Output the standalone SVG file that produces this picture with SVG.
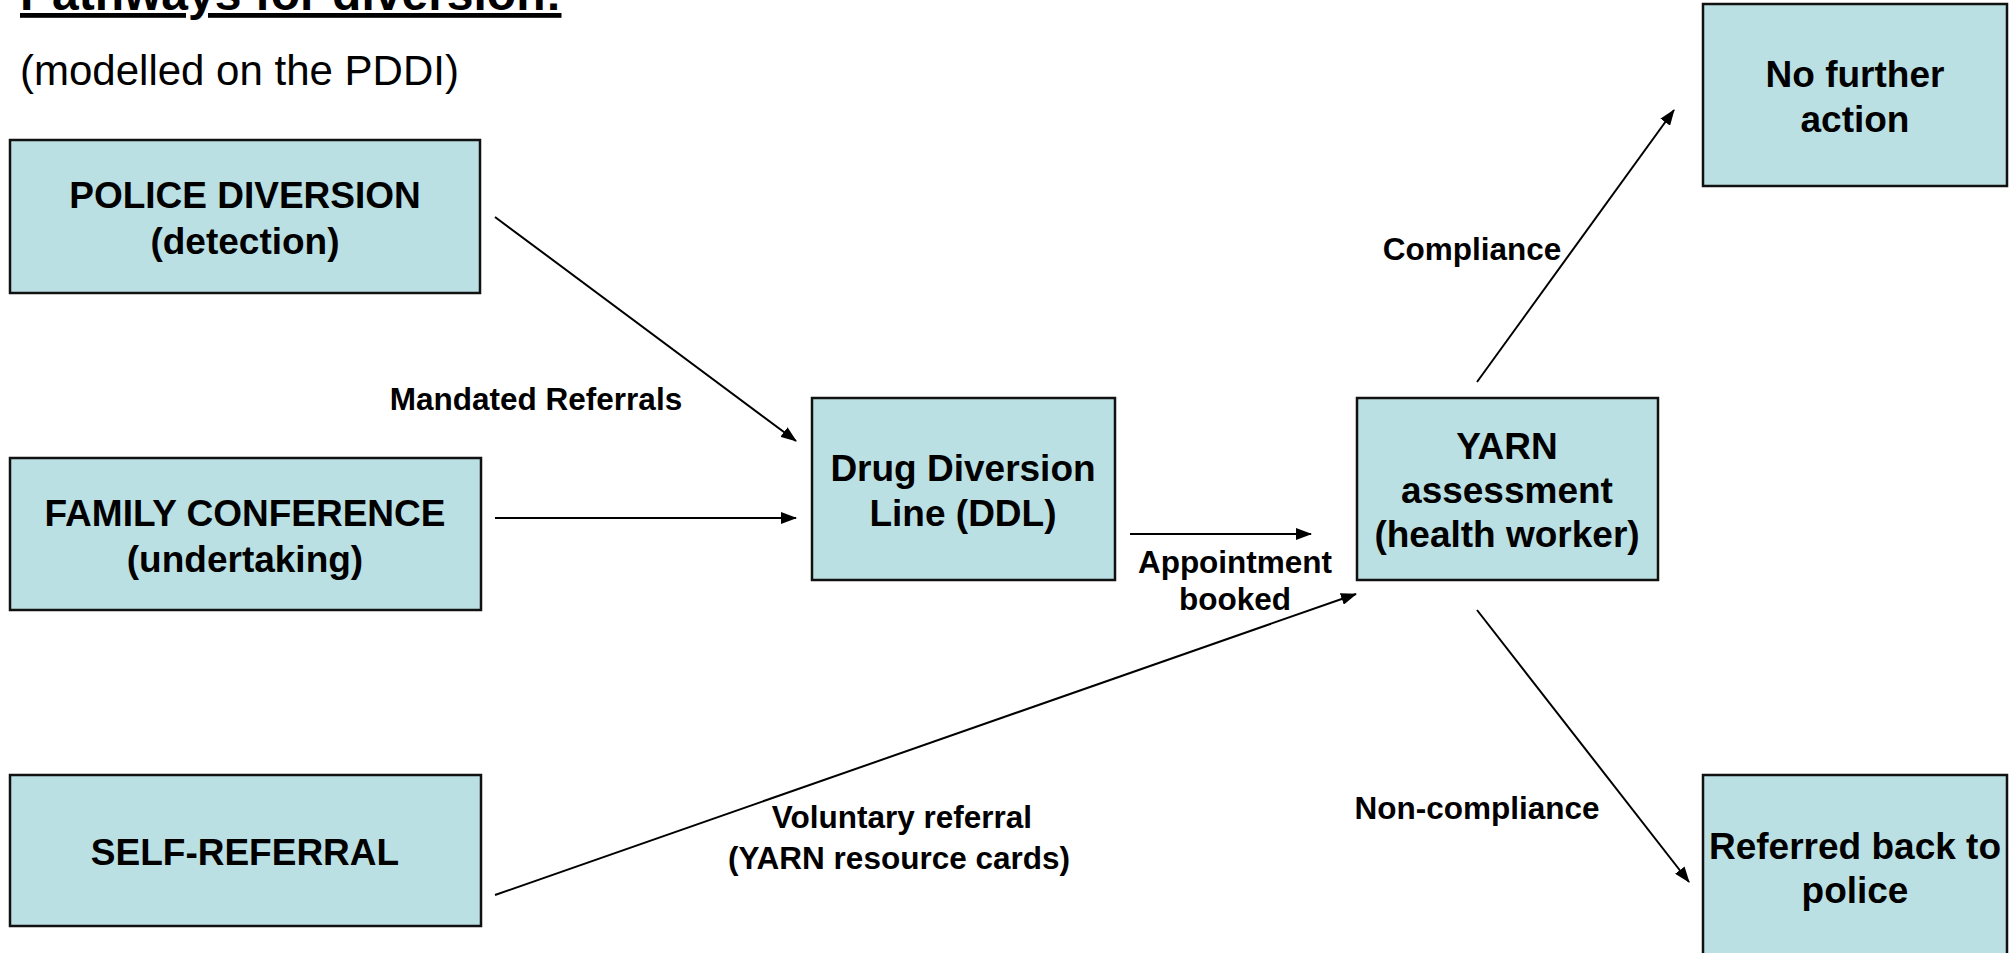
<svg xmlns="http://www.w3.org/2000/svg" width="2011" height="953" viewBox="0 0 2011 953">
<style>
.box{fill:#BAE0E3;stroke:#111;stroke-width:2.5}
.nt{font-family:"Liberation Sans",Arial,sans-serif;font-weight:bold;font-size:37px;fill:#000;text-anchor:middle}
.lb{font-family:"Liberation Sans",Arial,sans-serif;font-weight:bold;font-size:31.5px;fill:#000;text-anchor:middle}
.cn{stroke:#000;stroke-width:2;fill:none;marker-end:url(#ah)}
</style>
<defs>
<marker id="ah" markerUnits="userSpaceOnUse" markerWidth="16" markerHeight="12" refX="15" refY="6" orient="auto">
<path d="M0,0 L16,6 L0,12 z" fill="#000"/>
</marker>
</defs>
<rect width="2011" height="953" fill="#fff"/>
<text x="20" y="10" font-family="Liberation Sans,Arial,sans-serif" font-weight="bold" font-size="48" text-decoration="underline">Pathways for diversion:</text>
<text x="20" y="85" font-family="Liberation Sans,Arial,sans-serif" font-size="42">(modelled on the PDDI)</text>

<g id="police">
<rect class="box" x="10" y="140" width="470" height="153"/>
<text class="nt" x="245" y="208">POLICE DIVERSION</text>
<text class="nt" x="245" y="254">(detection)</text>
</g>
<g id="family">
<rect class="box" x="10" y="458" width="471" height="152"/>
<text class="nt" x="245" y="526">FAMILY CONFERENCE</text>
<text class="nt" x="245" y="572">(undertaking)</text>
</g>
<g id="self">
<rect class="box" x="10" y="775" width="471" height="151"/>
<text class="nt" x="245" y="865">SELF-REFERRAL</text>
</g>
<g id="ddl">
<rect class="box" x="812" y="398" width="303" height="182"/>
<text class="nt" x="963" y="481">Drug Diversion</text>
<text class="nt" x="963" y="526">Line (DDL)</text>
</g>
<g id="yarn">
<rect class="box" x="1357" y="398" width="301" height="182"/>
<text class="nt" x="1507" y="459">YARN</text>
<text class="nt" x="1507" y="503">assessment</text>
<text class="nt" x="1507" y="547">(health worker)</text>
</g>
<g id="nfa">
<rect class="box" x="1703" y="4" width="304" height="182"/>
<text class="nt" x="1855" y="87">No further</text>
<text class="nt" x="1855" y="132">action</text>
</g>
<g id="referred">
<rect class="box" x="1703" y="775" width="304" height="190"/>
<text class="nt" x="1855" y="859">Referred back to</text>
<text class="nt" x="1855" y="903">police</text>
</g>

<g id="connectors">
<line class="cn" x1="495" y1="217" x2="796" y2="441"/>
<line class="cn" x1="495" y1="518" x2="796" y2="518"/>
<line class="cn" x1="1130" y1="534" x2="1311" y2="534"/>
<line class="cn" x1="495" y1="895" x2="1356" y2="594"/>
<line class="cn" x1="1477" y1="382" x2="1674" y2="110"/>
<line class="cn" x1="1477" y1="610" x2="1689" y2="882"/>
<text class="lb" x="536" y="410">Mandated Referrals</text>
<text class="lb" x="1235" y="573">Appointment</text>
<text class="lb" x="1235" y="610">booked</text>
<text class="lb" x="1472" y="260">Compliance</text>
<text class="lb" x="1477" y="819">Non-compliance</text>
<text class="lb" x="902" y="828">Voluntary referral</text>
<text class="lb" x="899" y="869">(YARN resource cards)</text>
</g>
</svg>
